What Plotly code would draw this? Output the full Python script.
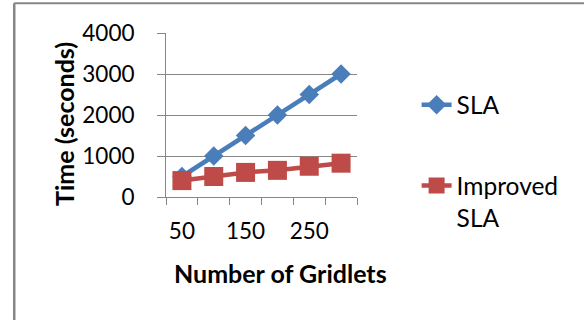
import plotly.graph_objects as go

categories = ["50", "100", "150", "200", "250", "300"]
x_tick_labels = ["50", "", "150", "", "250", ""]
sla = [500, 1000, 1500, 2000, 2500, 3000]
improved_sla = [400, 500, 600, 650, 750, 825]
y_ticks = [0, 1000, 2000, 3000, 4000]

BLUE = "#4A7EBB"
RED = "#BE4B48"
GRID = "#878787"
FONT = "Lato, 'Open Sans', sans-serif"

fig = go.Figure()
fig.add_trace(go.Scatter(
    x=categories, y=sla, name="SLA", mode="lines+markers",
    line=dict(color=BLUE, width=4.5),
    marker=dict(symbol="diamond", size=15, color=BLUE),
    legendgroup="a",
))
fig.add_trace(go.Scatter(
    x=categories, y=improved_sla, name="Improved<br>SLA", mode="lines+markers",
    line=dict(color=RED, width=4.5),
    marker=dict(symbol="square", size=19, color=RED),
    legendgroup="b",
))

L, R, T, B = 166, 584 - 357.3, 32.7, 320 - 196.7
W = 584 - L - R
H = 320 - T - B

def px(x):
    return (x - L) / W

def py(y):
    return (320 - B - y) / H

fig.update_layout(
    width=584, height=320,
    margin=dict(l=L, r=R, t=T, b=B, pad=0, autoexpand=False),
    paper_bgcolor="white", plot_bgcolor="white",
    font=dict(family=FONT, size=22, color="#000000"),
    showlegend=True,
    legend=dict(
        x=px(417), y=py(82), xanchor="left", yanchor="top",
        traceorder="grouped", tracegroupgap=46, valign="top",
        font=dict(family=FONT, size=24.5, color="#000000"),
        bgcolor="rgba(0,0,0,0)", itemwidth=30,
    ),
    xaxis=dict(
        type="category", range=[-0.5, 5.5], automargin=False,
        tickmode="array", tickvals=categories, ticktext=x_tick_labels, tickangle=0,
        tickson="boundaries", ticks="outside", ticklen=7, tickcolor=GRID, tickwidth=1,
        showline=True, linecolor=GRID, linewidth=1,
        showgrid=False, zeroline=False,
        tickfont=dict(family=FONT, size=22.5, color="#000000"),
        ticklabelstandoff=14,
    ),
    yaxis=dict(
        range=[0, 4000], tickmode="array", tickvals=y_ticks, automargin=False,
        ticks="outside", ticklen=8, tickcolor=GRID, tickwidth=1,
        showline=True, linecolor=GRID, linewidth=1,
        showgrid=True, gridcolor=GRID, gridwidth=1,
        zeroline=False,
        tickfont=dict(family=FONT, size=22.5, color="#000000"),
        ticklabelstandoff=18,
    ),
    annotations=[
        dict(text="<b>Time (seconds)</b>", textangle=-90, xref="paper", yref="paper",
             x=px(64), y=py(123.5), xanchor="center", yanchor="middle", showarrow=False,
             font=dict(family=FONT, size=25, color="#000000")),
        dict(text="<b>Number of Gridlets</b>", xref="paper", yref="paper",
             x=px(281), y=py(273), xanchor="center", yanchor="middle", showarrow=False,
             font=dict(family=FONT, size=25, color="#000000")),
    ],
    shapes=[
        dict(type="line", xref="paper", yref="paper", x0=px(14), x1=px(600), y0=py(3), y1=py(3),
             line=dict(color="#868686", width=2)),
        dict(type="line", xref="paper", yref="paper", x0=px(14), x1=px(14), y0=py(3), y1=py(330),
             line=dict(color="#868686", width=2.5)),
    ],
)

fig.write_html(
    "out.html",
    config={"displayModeBar": False, "staticPlot": True},
    post_script="document.body.style.margin='0';document.body.style.overflow='hidden';",
)
